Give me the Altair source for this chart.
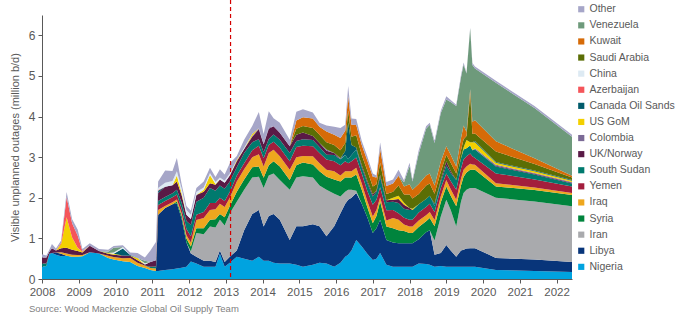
import altair as alt
import pandas as pd

YEARS = [2008.00, 2008.12, 2008.20, 2008.27, 2008.38, 2008.52, 2008.67, 2008.82, 2008.97, 2009.10,
         2009.30, 2009.55, 2009.80, 2009.95, 2010.20, 2010.40, 2010.60, 2010.80, 2010.95, 2011.10,
         2011.16, 2011.35, 2011.55, 2011.67, 2011.80, 2011.93, 2012.05, 2012.20, 2012.40, 2012.57,
         2012.72, 2012.84, 2012.97, 2013.11, 2013.30, 2013.50, 2013.72, 2013.90, 2014.03, 2014.17,
         2014.30, 2014.47, 2014.74, 2014.92, 2015.10, 2015.37, 2015.55, 2015.74, 2015.95, 2016.12,
         2016.25, 2016.33, 2016.42, 2016.55, 2016.70, 2016.85, 2017.00, 2017.10, 2017.20, 2017.37,
         2017.55, 2017.70, 2017.85, 2018.00, 2018.08, 2018.25, 2018.45, 2018.55, 2018.68, 2018.85,
         2019.00, 2019.12, 2019.27, 2019.40, 2019.47, 2019.55, 2019.65, 2019.71, 2019.78, 2020.35,
         2021.40, 2022.42]

NIGERIA = [.30, .32, .62, .64, .60, .56, .57, .55, .55, .56,
           .66, .63, .52, .48, .44, .42, .32, .27, .22, .20,
           .20, .22, .24, .26, .28, .30, .43, .38, .30, .30,
           .30, .62, .30, .40, .55, .50, .45, .55, .45, .45,
           .40, .38, .38, .35, .30, .35, .40, .38, .30, .40,
           .55, .60, .70, .96, .80, .62, .47, .50, .64, .35,
           .30, .30, .30, .30, .30, .38, .37, .35, .30, .32,
           .30, .30, .30, .30, .30, .30, .30, .30, .30, .22,
           .20, .17]
LIBYA = [0, 0, 0, 0, .05, .06, 0, 0, 0, 0,
         0, 0, 0, 0, 0, 0, 0, 0, 0, 0,
         1.38, 1.53, 1.60, 1.60, 1.20, .60, .20, .17, .15, .15,
         .12, .08, .12, .15, .15, .70, 1.15, 1.15, .84, 1.10,
         1.20, 1.08, .58, .95, 1.00, 1.00, .90, .67, 1.00, 1.22,
         1.30, 1.35, 1.30, 1.16, 1.05, .90, .66, .75, .82, .61,
         .60, .58, .58, .58, .58, .60, .78, .85, .30, .32,
         .54, .40, .25, .40, .42, .45, .46, .46, .46, .30,
         .28, .25]
IRAN = [0, 0, 0, 0, 0, 0, 0, 0, 0, 0,
        0, 0, 0, 0, 0, 0, 0, 0, 0, 0,
        0, 0, 0, 0, 0, 0, .05, .58, .65, .84,
        .85, .76, .90, 1.07, 1.20, 1.00, .90, .82, .95, 1.00,
        1.00, .98, 1.24, 1.20, 1.23, 1.15, 1.00, 1.15, .80, .41,
        .30, .25, .20, .05, 0, 0, 0, 0, 0, 0,
        0, 0, 0, 0, 0, 0, 0, 0, .35, .90,
        1.11, 1.00, .74, 1.20, 1.40, 1.45, 1.48, 1.48, 1.48, 1.48,
        1.43, 1.37]
SYRIA = [0, 0, 0, 0, 0, 0, 0, 0, 0, 0,
         0, 0, 0, 0, 0, 0, 0, 0, 0, 0,
         0, 0, 0, .05, .08, .10, .12, .12, .15, .17,
         .20, .14, .20, .18, .25, .25, .25, .25, .25, .25,
         .30, .33, .24, .30, .34, .32, .35, .32, .35, .37,
         .35, .30, .30, .40, .35, .25, .24, .30, .45, .33,
         .35, .32, .30, .25, .25, .30, .27, .30, .35, .35,
         .33, .35, .50, .40, .40, .42, .45, .45, .45, .28,
         .28, .28]
IRAQ = [0, 0, 0, 0, 0, .04, .06, .05, .04, .03,
        0, 0, .05, .06, .07, .10, .08, .06, .05, .06,
        .12, .05, .05, .05, .05, .08, .10, .20, .25, .24,
        .25, .25, .25, .20, .25, .25, .25, .30, .28, .30,
        .28, .25, .25, .20, .16, .20, .20, .17, .20, .15,
        .15, .15, .15, .17, .15, .15, .17, .15, .10, .15,
        .25, .26, .16, .16, .16, .16, .15, .15, .15, .15,
        .16, .16, .16, .17, .17, .15, .15, .13, .12, .08,
        .06, .05]
YEMEN = [0, 0, 0, 0, 0, 0, 0, 0, 0, 0,
         0, 0, 0, 0, 0, 0, 0, 0, 0, 0,
         .12, .12, .12, .12, .12, .15, .15, .13, .15, .17,
         .15, .15, .15, .15, .15, .15, .17, .21, .20, .20,
         .20, .21, .21, .25, .25, .25, .25, .25, .25, .25,
         .25, .20, .25, .25, .25, .25, .29, .25, .25, .25,
         .20, .16, .17, .17, .17, .20, .20, .20, .20, .20,
         .16, .20, .25, .25, .25, .25, .25, .20, .17, .24,
         .20, .16]
SOUTH_SUDAN = [.08, .06, 0, 0, 0, 0, 0, 0, 0, 0,
               0, 0, 0, 0, 0, 0, 0, 0, .03, .05,
               .10, .10, .10, .12, .15, .20, .28, .32, .35, .37,
               .30, .30, .30, .25, .20, .25, .20, .16, .15, .15,
               .18, .20, .20, .15, .16, .15, .15, .12, .15, .15,
               .15, .10, .15, .20, .15, .20, .20, .20, .25, .20,
               .20, .25, .22, .24, .24, .20, .20, .20, .15, .15,
               .20, .20, .24, .25, .25, .20, .20, .15, .21, .17,
               .12, .07]
UK_NORWAY = [.15, .15, .05, .12, .05, .10, .14, .12, .10, .06,
             .16, .06, .05, .06, .07, .05, .06, .03, .12, .15,
             .20, .25, .20, .20, .18, .15, .15, .17, .15, .12,
             .15, .15, .15, .15, .15, .10, .13, .25, .20, .25,
             .20, .17, .17, .15, .17, .10, .10, .10, .05, 0,
             0, 0, 0, 0, .05, .05, .05, .03, .05, .05,
             .05, .10, .10, .05, 0, 0, 0, 0, 0, .05,
             .10, .05, 0, 0, 0, 0, 0, 0, 0, .02,
             .02, .02]
COLOMBIA = [0, 0, 0, 0, 0, 0, 0, 0, 0, 0,
            0, 0, 0, 0, 0, 0, 0, 0, 0, 0,
            0, 0, 0, 0, 0, 0, 0, 0, 0, 0,
            0, 0, 0, 0, 0, 0, .02, .02, 0, .03,
            0, 0, 0, 0, 0, 0, 0, .03, 0, .02,
            0, 0, 0, 0, 0, 0, 0, 0, 0, 0,
            0, 0, 0, 0, 0, 0, 0, 0, 0, 0,
            0, 0, 0, 0, 0, 0, 0, 0, .03, .02,
            .02, .02]
US_GOM = [0, 0, 0, 0, 0, .10, .75, .30, .08, .02,
          0, 0, .02, .02, 0, 0, .06, 0, 0, 0,
          0, 0, 0, .15, .05, 0, 0, 0, .05, .20,
          .02, 0, 0, 0, .03, 0, .05, 0, 0, 0,
          0, 0, 0, 0, 0, 0, 0, 0, 0, 0,
          0, 0, 0, 0, 0, 0, 0, 0, 0, 0,
          .05, .08, .05, 0, .03, 0, 0, 0, 0, 0,
          0, 0, 0, 0, .05, .20, .08, .20, .15, .05,
          .04, .03]
CANADA_OIL_SANDS = [0, 0, 0, 0, 0, 0, 0, 0, 0, 0,
                    0, 0, 0, 0, .17, .02, 0, 0, 0, 0,
                    .05, 0, 0, 0, 0, 0, 0, 0, 0, 0,
                    0, 0, 0, 0, 0, 0, 0, 0, 0, 0,
                    0, 0, 0, 0, 0, 0, 0, 0, 0, 0,
                    .10, .90, .25, .05, 0, 0, 0, 0, 0, 0,
                    0, 0, 0, 0, 0, 0, 0, 0, .05, 0,
                    0, 0, 0, 0, 0, 0, 0, 0, .03, .02,
                    .02, .02]
AZERBAIJAN = [0, 0, 0, 0, 0, .04, .50, .35, .30, .02,
              0, 0, 0, 0, 0, 0, 0, 0, 0, 0,
              .02, 0, 0, 0, 0, 0, 0, 0, 0, 0,
              0, 0, 0, 0, 0, 0, 0, 0, 0, 0,
              0, 0, 0, 0, 0, 0, 0, 0, 0, 0,
              0, 0, 0, 0, 0, 0, 0, 0, 0, 0,
              0, 0, 0, 0, 0, 0, 0, 0, 0, 0,
              0, 0, 0, 0, 0, 0, 0, 0, 0, 0,
              0, 0]
CHINA = [0, 0, 0, 0, 0, 0, 0, 0, 0, 0,
         0, 0, 0, .03, .04, 0, 0, .03, 0, 0,
         .05, .10, .10, .10, .12, .12, .10, .07, .05, .05,
         .05, .05, .05, .05, 0, .03, 0, 0, 0, 0,
         0, 0, 0, 0, 0, 0, 0, 0, 0, 0,
         0, 0, 0, 0, 0, 0, 0, 0, 0, 0,
         0, 0, 0, 0, 0, 0, 0, 0, 0, 0,
         0, 0, 0, 0, 0, 0, 0, 0, 0, 0,
         0, 0]
SAUDI_ARABIA = [0, 0, 0, 0, 0, 0, 0, 0, 0, 0,
                0, 0, 0, 0, 0, 0, 0, 0, 0, 0,
                0, 0, 0, 0, 0, 0, 0, 0, 0, 0,
                0, 0, 0, 0, 0, 0, 0, 0, 0, 0,
                0, 0, 0, .15, .16, .20, .20, .18, .20, .20,
                .20, .30, .20, .30, .25, .25, .20, .15, .30, .15,
                .15, .25, .20, .33, .25, .25, .33, .30, .25, .20,
                .16, .20, .16, .20, .20, .10, 1.20, .20, .18, .26,
                .16, .06]
KUWAIT = [0, 0, 0, 0, 0, 0, 0, 0, 0, 0,
          0, 0, 0, 0, 0, 0, 0, 0, 0, 0,
          0, 0, 0, 0, 0, 0, 0, 0, 0, 0,
          0, 0, 0, 0, 0, 0, 0, 0, 0, 0,
          0, 0, 0, .20, .21, .23, .20, .26, .25, .30,
          .30, .35, .30, .25, .25, .25, .24, .17, .35, .20,
          .20, .24, .20, .25, .22, .25, .25, .25, .20, .25,
          .21, .20, .17, .30, .34, .10, .10, .30, .33, .25,
          .14, .04]
VENEZUELA = [0, 0, 0, 0, 0, 0, 0, 0, 0, 0,
             0, 0, .03, .12, 0, 0, 0, .06, 0, 0,
             0, 0, 0, 0, 0, 0, 0, 0, 0, 0,
             0, 0, 0, 0, 0, 0, 0, 0, 0, 0,
             0, 0, 0, 0, 0, 0, 0, 0, 0, 0,
             0, 0, 0, 0, 0, 0, 0, 0, 0, 0,
             0, 0, .10, .45, .20, .75, 1.15, 1.20, 1.05, 1.20,
             1.15, 1.30, 1.49, 1.50, 1.50, 1.44, 1.50, 1.40, 1.27, 1.44,
             1.24, .96]
OTHER = [.08, .05, .05, .10, .05, .05, .12, .10, .15, .05,
         .06, .05, .05, .04, .04, .06, .12, .08, .28, .45,
         .16, .30, .25, .33, .10, .10, .10, .10, .15, .13,
         .12, .20, .15, .25, .10, .20, .20, .40, .25, .40,
         .20, .25, .16, .22, .20, .15, .10, .15, .20, .25,
         .15, .25, .15, .15, .10, .10, .08, .05, .15, .10,
         .10, .15, .05, .08, .05, .08, .06, .05, .06, .05,
         .08, .05, .03, .05, .05, .02, .02, .05, .05, .05,
         .05, .05]

# bottom of the stack first
SERIES = [
    ("Nigeria", NIGERIA, "#00a3e0"),
    ("Libya", LIBYA, "#08357a"),
    ("Iran", IRAN, "#a9aaad"),
    ("Syria", SYRIA, "#00843d"),
    ("Iraq", IRAQ, "#eea71e"),
    ("Yemen", YEMEN, "#a31e3c"),
    ("South Sudan", SOUTH_SUDAN, "#007a6e"),
    ("UK/Norway", UK_NORWAY, "#5a1a46"),
    ("Colombia", COLOMBIA, "#7b6a96"),
    ("US GoM", US_GOM, "#f3d000"),
    ("Canada Oil Sands", CANADA_OIL_SANDS, "#005b6b"),
    ("Azerbaijan", AZERBAIJAN, "#f5555a"),
    ("China", CHINA, "#ddeaf3"),
    ("Saudi Arabia", SAUDI_ARABIA, "#5b6e05"),
    ("Kuwait", KUWAIT, "#d66b08"),
    ("Venezuela", VENEZUELA, "#6e9a7b"),
    ("Other", OTHER, "#a6a6c8"),
]
YEAR_TICKS = [2008, 2009, 2010, 2011, 2012, 2013, 2014, 2015, 2016, 2017, 2018, 2019, 2020, 2021, 2022]
Y_TICKS = [0, 1, 2, 3, 4, 5, 6]
MARKER_YEAR = 2013.13
SOURCE = "Source: Wood Mackenzie Global Oil Supply Team"
FONT = "Liberation Sans"
GREY = "#595959"

rows = []
for rank, (name, vals, _) in enumerate(SERIES):
    for yr, v in zip(YEARS, vals):
        rows.append({"year": yr, "value": v, "series": name, "rank": rank})
df = pd.DataFrame(rows)

legend_domain = [s[0] for s in SERIES][::-1]
legend_range = [s[2] for s in SERIES][::-1]

W, H = 530, 264

X_ENC = alt.X("year:Q",
              scale=alt.Scale(domain=[2008, 2022.42], nice=False, zero=False),
              axis=alt.Axis(values=YEAR_TICKS, format="d", title=None, grid=False,
                            labelFontSize=11.5, labelColor=GREY, labelFont=FONT,
                            labelFlush=False, labelOverlap=False,
                            domainColor=GREY, tickColor=GREY, tickSize=4,
                            labelPadding=3))

area = alt.Chart(df).mark_area(interpolate="linear").encode(
    x=X_ENC,
    y=alt.Y("value:Q", stack="zero",
            scale=alt.Scale(domain=[0, 6.5], nice=False),
            axis=alt.Axis(values=Y_TICKS, title="Visible unplanned outages (million b/d)",
                          grid=False, labelFontSize=12, labelColor=GREY, labelFont=FONT,
                          domainColor=GREY, tickColor=GREY, tickSize=4, labelPadding=3,
                          titleFont=FONT, titleFontSize=11, titleFontWeight="normal",
                          titleColor=GREY, titlePadding=8)),
    color=alt.Color("series:N",
                    scale=alt.Scale(domain=legend_domain, range=legend_range),
                    legend=alt.Legend(title=None, orient="none", legendX=534, legendY=-11,
                                      symbolType="square", symbolSize=38, symbolStrokeWidth=0,
                                      labelFont=FONT, labelFontSize=10.5, labelColor=GREY,
                                      rowPadding=5.1, labelOffset=3, padding=0)),
    order=alt.Order("rank:Q", sort="ascending"),
)

rule = alt.Chart(pd.DataFrame({"year": [MARKER_YEAR]})).mark_rule(
    color="#d40000", strokeDash=[4, 3], strokeWidth=1.2
).encode(x=X_ENC, y=alt.value(-15), y2=alt.value(H))

source = alt.Chart(pd.DataFrame({"t": [SOURCE]})).mark_text(
    align="left", baseline="middle", fontSize=9.5, font=FONT, color="#7f7f7f"
).encode(x=alt.value(-13), y=alt.value(H + 30), text="t:N")

chart = alt.layer(area, rule, source).properties(
    width=W, height=H,
    autosize=alt.AutoSizeParams(type="none"),
    padding={"left": 42, "top": 15, "right": 105, "bottom": 42},
).configure_view(stroke=None)

chart.save("out.html", embed_options={"renderer": "svg", "actions": False})
